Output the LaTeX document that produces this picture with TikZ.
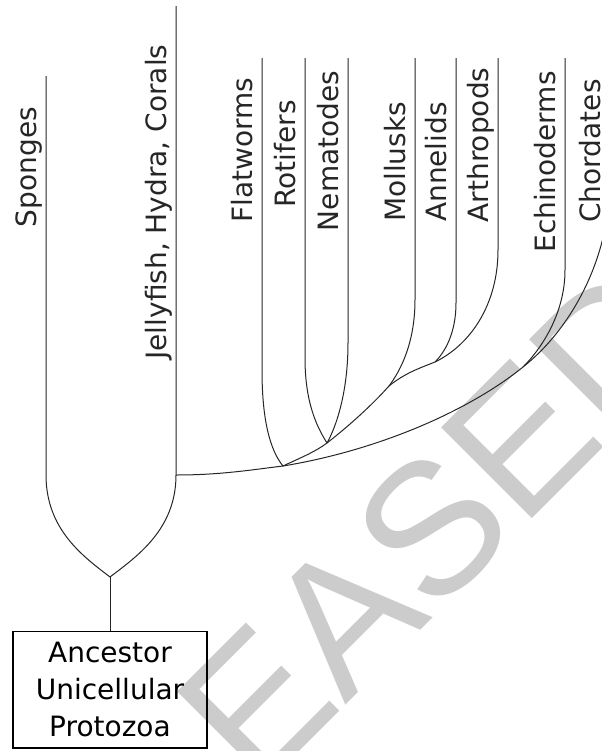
\documentclass[tikz,border=0pt]{standalone}
\usepackage{fontspec}
\setmainfont{DejaVu Sans}
\newfontfamily\markfont{Liberation Sans}
\usepackage{tikz}
\definecolor{markgray}{HTML}{CCCCCC}
\tikzset{
  branch/.style    = {draw=black!85, line width=0.75pt},
  taxon/.style     = {rotate=90, anchor=base, inner sep=0pt,
                      text=black!85, font=\fontsize{21}{25}\selectfont},
  ancestor/.style  = {draw, line width=1.1pt, minimum width=145.5pt,
                      inner ysep=8pt, align=center,
                      font=\fontsize{21}{27.75}\selectfont},
  watermark/.style = {rotate=45, text=markgray, inner sep=0pt,
                      font=\markfont\fontsize{140}{168}\selectfont}
}

\begin{document}
\begin{tikzpicture}[x=0.75pt, y=-0.75pt]
  \useasboundingbox (0,0) rectangle (602,751);
  \node[watermark] (mark) at (307,653) {RELEASED};

  % tops of the lines
  \coordinate (sponges)     at (46,76);
  \coordinate (jelly)       at (176,6);
  \coordinate (flatworms)   at (262,58);
  \coordinate (rotifers)    at (305,58);
  \coordinate (nematodes)   at (348,58);
  \coordinate (mollusks)    at (415,58);
  \coordinate (annelids)    at (456,58);
  \coordinate (arthropods)  at (498,58);
  \coordinate (echinoderms) at (565,58);
  \coordinate (chordates)   at (610,58);

  % forks
  \coordinate (root)  at (110,577);
  \coordinate (porif) at (46,475);
  \coordinate (cnid)  at (176,475);
  \coordinate (flatj) at (283,466);
  \coordinate (nemj)  at (327,443);
  \coordinate (molj)  at (389,386);
  \coordinate (annj)  at (435,362);
  \coordinate (arthb) at (498,250);
  \coordinate (echj)  at (523,367);
  \coordinate (chordb) at (610,180);

  \node[ancestor, anchor=north] (anc) at (110,631) {Ancestor\\Unicellular\\Protozoa};

  \draw[branch] (root) -- (anc.north);
  \draw[branch] (sponges) -- (porif) .. controls +(0,55) and +(-26,-20) .. (root);
  \draw[branch] (jelly) -- (cnid) .. controls +(0,55) and +(26,-20) .. (root);

  \draw[branch] (cnid) .. controls +(44,0) and +(-33,4) .. (flatj)
    .. controls +(97,-16) and +(-53,43) .. (echj)
    .. controls +(47,-37) and +(0,80) .. (chordb) -- (chordates);
  \draw[branch] (flatworms) -- ++(0,312) .. controls +(0,50) and +(-13,-16) .. (flatj);
  \draw[branch] (flatj) .. controls +(17,-8) and +(-12,9) .. (nemj)
    .. controls +(23,-18) and +(-17,19) .. (molj)
    .. controls +(16,-13) and +(-15,6) .. (annj)
    .. controls +(35,-17) and +(0,55) .. (arthb) -- (arthropods);
  \draw[branch] (rotifers) -- ++(0,300) .. controls +(0,45) and +(-10,-16) .. (nemj);
  \draw[branch] (nematodes) -- ++(0,285) .. controls +(0,50) and +(9,-16) .. (nemj);
  \draw[branch] (mollusks) -- ++(0,242) .. controls +(0,42) and +(12,-16) .. (molj);
  \draw[branch] (annelids) -- ++(0,245) .. controls +(0,30) and +(10,-10) .. (annj);
  \draw[branch] (echinoderms) -- ++(0,212) .. controls +(0,42) and +(20,-20) .. (echj);

  \node[taxon] (l-sponges)     at (36.5,167) {Sponges};
  \node[taxon] (l-jelly)       at (166,202)  {Jellyfish, Hydra, Corals};
  \node[taxon] (l-flatworms)   at (252,150)  {Flatworms};
  \node[taxon] (l-rotifers)    at (295,154)  {Rotifers};
  \node[taxon] (l-nematodes)   at (338,151)  {Nematodes};
  \node[taxon] (l-mollusks)    at (405,162)  {Mollusks};
  \node[taxon] (l-annelids)    at (446,162)  {Annelids};
  \node[taxon] (l-arthropods)  at (488,145)  {Arthropods};
  \node[taxon] (l-echinoderms) at (555,162)  {Echinoderms};
  \node[taxon] (l-chordates)   at (600,151)  {Chordates};
\end{tikzpicture}
\end{document}
